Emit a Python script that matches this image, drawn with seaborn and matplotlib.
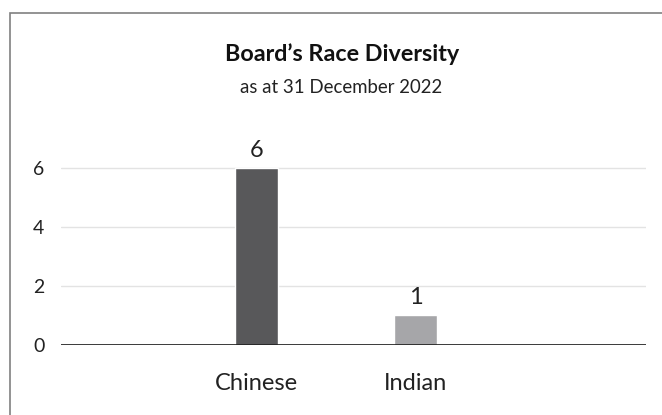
import matplotlib
matplotlib.use("Agg")
import matplotlib.pyplot as plt
import seaborn as sns
import pandas as pd
from matplotlib.patches import Rectangle

# data
races = ["Chinese", "Indian"]
members = [6, 1]
bar_colors = ["#58585a", "#a6a6a9"]

df = pd.DataFrame({"Race": races, "Members": members})

sns.set_theme(style="white")
plt.rcParams["font.family"] = ["Lato", "DejaVu Sans"]

fig = plt.figure(figsize=(6.62, 4.15), dpi=100)
ax = fig.add_axes([0.0921, 0.1687, 0.8837, 0.4976])

sns.barplot(data=df, x="Race", y="Members", hue="Race", palette=bar_colors,
            width=0.27, legend=False, ax=ax, saturation=1)

ax.set_xlim(-1.23, 2.45)
ax.set_ylim(0, 7)
ax.set_yticks([0, 2, 4, 6])
ax.yaxis.grid(True, color="#e3e3e3", linewidth=1)
ax.set_axisbelow(True)
ax.axhline(0, color="#1a1a1a", linewidth=1.2, zorder=3)
for s in ax.spines.values():
    s.set_visible(False)
ax.set_xlabel("")
ax.set_ylabel("")
ax.tick_params(axis="y", length=0, pad=12, labelsize=14, labelcolor="#222222")
ax.tick_params(axis="x", length=0, pad=20, labelsize=17, labelcolor="#222222")

# value labels
for i, v in enumerate(members):
    ax.text(i, v + 0.25, str(v), ha="center", va="bottom", fontsize=17, color="#222222")

fig.text(0.517, 0.87, "Board\u2019s Race Diversity", ha="center", va="center",
         fontsize=16.8, fontweight="bold", color="#111111")
fig.text(0.515, 0.788, "as at 31 December 2022", ha="center", va="center",
         fontsize=13.4, color="#222222")

# frame around chart area
fig.patches.append(Rectangle((10 / 662, -0.05), 1.0, 1 - 13 / 415 + 0.05,
                             transform=fig.transFigure, fill=False,
                             edgecolor="#808080", linewidth=1.2))

fig.savefig("out.png", dpi=100)
